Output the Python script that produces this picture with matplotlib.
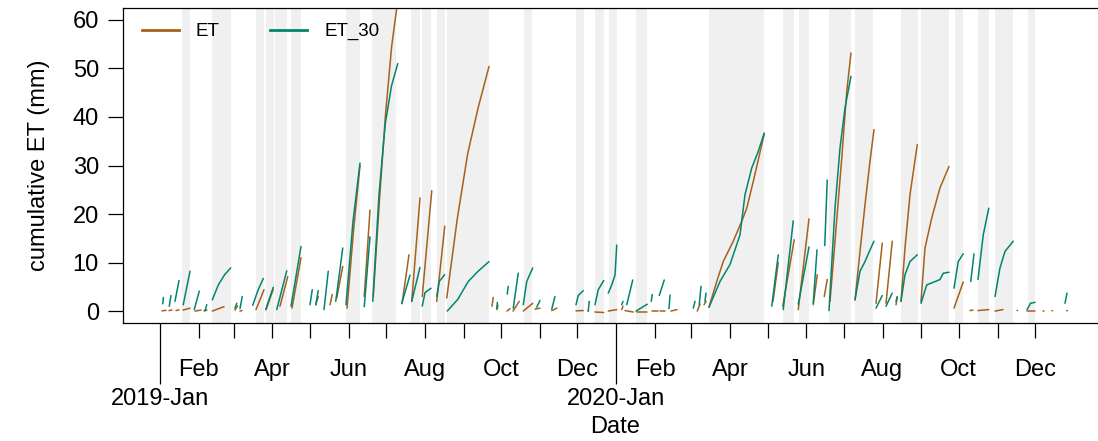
import numpy as np
import matplotlib.pyplot as plt
import matplotlib.dates as mdates

plt.rcParams['font.family'] = 'Liberation Sans'

# grey shaded periods
shade_start = ["2019-01-19", "2019-02-12", "2019-03-19", "2019-03-27", "2019-04-03",
               "2019-04-16", "2019-05-30", "2019-06-20", "2019-07-21", "2019-07-30",
               "2019-08-11", "2019-08-19", "2019-10-19", "2019-11-30", "2019-12-15",
               "2019-12-26", "2020-01-17", "2020-03-15", "2020-05-13", "2020-05-26",
               "2020-06-19", "2020-07-10", "2020-08-16", "2020-09-01", "2020-09-28",
               "2020-10-16", "2020-10-30", "2020-11-25"]
shade_end = ["2019-01-25", "2019-02-27", "2019-03-25", "2019-04-02", "2019-04-13",
             "2019-04-24", "2019-06-10", "2019-07-09", "2019-07-28", "2019-08-06",
             "2019-08-17", "2019-09-21", "2019-10-26", "2019-12-06", "2019-12-22",
             "2020-01-02", "2020-01-26", "2020-04-28", "2020-05-22", "2020-06-03",
             "2020-07-07", "2020-07-24", "2020-08-29", "2020-09-23", "2020-10-04",
             "2020-10-25", "2020-11-13", "2020-12-01"]

# cumulative ET per event: (start date, days since start, mm)
et_events = [
    ("2019-01-02", [0.6, 3.8], [0.05, 0.15]),
    ("2019-01-08", [0.2, 2.6], [0.1, 0.2]),
    ("2019-01-13", [0.8, 3.2], [0.1, 0.25]),
    ("2019-01-19", [0.4, 6.0], [0.2, 0.6]),
    ("2019-01-29", [0.0, 4.8], [0.0, 0.2]),
    ("2019-02-05", [0.2, 2.6], [0.1, 0.2]),
    ("2019-02-11", [0.8, 10.2], [0.0, 0.9]),
    ("2019-03-02", [0.0, 2.0], [0.2, 1.1]),
    ("2019-03-06", [0.0, 1.6], [0.0, 0.1]),
    ("2019-03-18", [0.8, 7.2], [0.3, 4.4]),
    ("2019-03-26", [0.8, 6.6], [0.3, 4.5]),
    ("2019-04-07", [0.0, 6.2], [1.0, 7.1]),
    ("2019-04-16", [0.6, 7.8], [0.6, 11.0]),
    ("2019-05-05", [0.6, 2.6], [1.3, 3.0]),
    ("2019-05-17", [0.0, 1.8], [1.3, 3.4]),
    ("2019-05-22", [0.4, 5.2], [2.7, 9.2]),
    ("2019-05-30", [0.6, 5.8, 11.0], [0.6, 16.5, 30.0]),
    ("2019-06-13", [0.4, 5.0], [3.0, 20.8]),
    ("2019-06-20", [0.6, 5.5, 10.4, 15.3, 20.2], [3.0, 22.6, 40.5, 54.5, 64.0]),
    ("2019-07-13", [0.6, 6.2], [1.5, 11.6]),
    ("2019-07-21", [0.4, 7.0], [2.0, 23.3]),
    ("2019-07-29", [0.8, 8.4], [3.0, 24.8]),
    ("2019-08-10", [0.4, 6.8], [2.0, 17.5]),
    ("2019-08-18", [0.4, 8.8, 17.2, 25.6, 34.2], [2.7, 19.0, 32.5, 42.0, 50.4]),
    ("2019-09-23", [0.6, 1.6], [1.0, 2.8]),
    ("2019-09-27", [0.6, 1.4], [0.3, 1.2]),
    ("2019-10-05", [0.6, 3.0], [0.0, 0.5]),
    ("2019-10-10", [0.4, 5.4], [0.0, 2.0]),
    ("2019-10-18", [0.6, 8.2], [0.0, 1.6]),
    ("2019-10-28", [0.0, 4.0], [0.4, 0.6]),
    ("2019-11-10", [0.4, 4.6], [0.1, 0.6]),
    ("2019-11-29", [0.8, 6.6], [0.05, 0.1]),
    ("2019-12-09", [0.4, 0.9], [0.0, 0.1]),
    ("2019-12-15", [0.0, 7.0], [-0.2, -0.3]),
    ("2019-12-25", [0.6, 7.4], [0.0, 0.3]),
    ("2020-01-05", [0.4, 1.4], [0.3, 1.0]),
    ("2020-01-08", [0.0, 6.6], [0.1, -0.2]),
    ("2020-01-17", [0.4, 8.6], [-0.1, -0.1]),
    ("2020-01-29", [0.4, 5.6], [0.0, 0.0]),
    ("2020-02-05", [0.0, 4.0], [0.1, 0.1]),
    ("2020-02-13", [0.8, 5.6], [0.0, 0.3]),
    ("2020-03-05", [0.8, 3.0], [0.0, 1.4]),
    ("2020-03-11", [0.2, 1.8], [1.3, 2.0]),
    ("2020-03-15", [0.2, 6.4, 11.6, 19.6, 26.4, 30.4, 35.6, 44.4],
     [0.8, 6.1, 10.2, 14.4, 18.5, 21.2, 26.7, 36.5]),
    ("2020-05-05", [0.4, 4.6], [2.0, 10.0]),
    ("2020-05-13", [0.2, 9.4], [1.0, 14.7]),
    ("2020-05-25", [0.6, 9.2], [0.3, 19.0]),
    ("2020-06-06", [0.6, 3.8], [1.3, 7.5]),
    ("2020-06-15", [0.4, 2.8], [3.0, 6.5]),
    ("2020-06-20", [0.0, 4.0, 9.4, 13.4, 16.8], [2.0, 14.4, 31.5, 45.3, 53.2]),
    ("2020-07-10", [0.0, 4.0, 8.0, 12.0, 15.2], [2.3, 12.3, 21.9, 30.9, 37.4]),
    ("2020-07-26", [0.8, 5.8], [1.6, 14.0]),
    ("2020-08-03", [0.8, 5.8], [1.6, 14.4]),
    ("2020-08-11", [0.8, 1.8], [1.3, 2.8]),
    ("2020-08-15", [0.8, 4.0, 8.0, 13.8], [2.0, 13.0, 24.0, 34.3]),
    ("2020-08-31", [0.8, 4.0, 9.4, 16.0, 23.2], [2.0, 13.0, 19.2, 25.4, 29.8]),
    ("2020-09-27", [0.2, 7.6], [0.6, 6.0]),
    ("2020-10-10", [0.0, 2.4], [0.1, 0.2]),
    ("2020-10-16", [0.4, 9.0], [0.1, 0.3]),
    ("2020-10-30", [0.0, 6.4], [0.0, 0.3]),
    ("2020-11-16", [0.6, 1.1], [0.1, 0.15]),
    ("2020-11-24", [0.6, 7.0], [0.0, 0.0]),
    ("2020-12-07", [0.4, 0.9], [0.1, 0.1]),
    ("2020-12-14", [0.6, 1.1], [0.05, 0.1]),
    ("2020-12-26", [0.4, 0.9], [0.05, 0.1]),
]

et30_events = [
    ("2019-01-03", [0.2, 0.7], [1.5, 2.8]),
    ("2019-01-08", [0.4, 1.8], [1.0, 3.2]),
    ("2019-01-13", [0.0, 3.2], [2.0, 6.3]),
    ("2019-01-19", [0.6, 6.0], [1.3, 8.2]),
    ("2019-01-28", [0.4, 4.4], [0.3, 4.1]),
    ("2019-02-06", [0.0, 1.4], [0.0, 1.3]),
    ("2019-02-11", [0.8, 5.7, 10.7, 15.6], [2.3, 5.4, 7.5, 8.9]),
    ("2019-03-02", [0.0, 1.4], [0.6, 1.6]),
    ("2019-03-06", [0.0, 1.8], [0.5, 3.0]),
    ("2019-03-16", [0.2, 4.4, 8.6], [1.2, 4.3, 6.7]),
    ("2019-03-26", [0.6, 6.6], [0.3, 4.9]),
    ("2019-04-04", [0.4, 8.4], [0.3, 8.3]),
    ("2019-04-15", [0.8, 8.8], [1.0, 13.3]),
    ("2019-05-01", [0.0, 1.8], [1.3, 4.4]),
    ("2019-05-05", [0.6, 2.6], [1.3, 4.2]),
    ("2019-05-12", [0.2, 3.6], [0.3, 8.2]),
    ("2019-05-21", [0.6, 6.2], [2.0, 13.0]),
    ("2019-05-29", [0.8, 6.4, 12.0], [1.3, 18.5, 30.5]),
    ("2019-06-13", [0.4, 5.0], [0.9, 15.3]),
    ("2019-06-20", [0.2, 5.2, 10.2, 15.2, 20.2], [2.0, 24.0, 38.6, 46.4, 51.0]),
    ("2019-07-13", [0.4, 7.0], [1.6, 7.4]),
    ("2019-07-21", [0.4, 7.0], [2.0, 9.0]),
    ("2019-07-29", [0.8, 3.0, 7.8], [1.0, 3.8, 4.7]),
    ("2019-08-10", [0.4, 2.4, 6.8], [3.0, 6.1, 7.5]),
    ("2019-08-18", [0.8, 9.2, 17.6, 25.9, 34.2], [0.0, 2.4, 6.1, 8.3, 10.2]),
    ("2019-09-27", [0.4, 0.9], [0.5, 1.8]),
    ("2019-10-05", [0.8, 1.6], [3.5, 5.1]),
    ("2019-10-10", [0.6, 4.6], [0.6, 7.8]),
    ("2019-10-18", [0.6, 3.4, 8.2], [1.3, 6.1, 8.9]),
    ("2019-10-29", [0.4, 3.0], [0.8, 2.2]),
    ("2019-11-10", [0.4, 3.0], [0.4, 3.0]),
    ("2019-11-29", [0.8, 2.6, 6.6], [1.3, 3.2, 4.2]),
    ("2019-12-09", [0.6, 1.4], [0.0, 2.0]),
    ("2019-12-15", [0.0, 2.6, 7.0], [1.3, 4.4, 6.3]),
    ("2019-12-25", [0.6, 3.4, 6.0, 7.4], [3.7, 5.4, 7.4, 13.6]),
    ("2020-01-05", [0.4, 1.4], [1.3, 2.0]),
    ("2020-01-09", [0.4, 5.2], [1.3, 6.4]),
    ("2020-01-16", [0.8, 9.8], [0.0, 1.4]),
    ("2020-01-29", [0.0, 0.8], [2.0, 3.4]),
    ("2020-02-04", [0.4, 4.4], [3.2, 6.4]),
    ("2020-02-12", [0.2, 1.0], [0.5, 3.3]),
    ("2020-03-02", [0.6, 2.0], [0.6, 2.0]),
    ("2020-03-07", [0.4, 1.8], [1.3, 5.1]),
    ("2020-03-12", [0.0, 0.8], [2.0, 3.7]),
    ("2020-03-15", [0.2, 9.0, 17.0, 25.0, 29.0, 34.4, 39.6, 44.4],
     [0.8, 6.1, 9.6, 15.7, 24.0, 29.5, 32.9, 36.7]),
    ("2020-05-04", [0.4, 5.6], [1.0, 11.6]),
    ("2020-05-13", [0.6, 8.6], [0.3, 18.6]),
    ("2020-05-25", [0.6, 9.2], [1.4, 13.2]),
    ("2020-06-06", [0.6, 3.6], [1.6, 12.6]),
    ("2020-06-15", [0.8, 2.8], [13.5, 27.0]),
    ("2020-06-19", [0.2, 5.0, 9.0, 13.0, 17.8], [0.1, 21.2, 33.6, 41.9, 48.4]),
    ("2020-07-10", [0.0, 4.0, 8.0, 12.0, 15.2], [2.3, 8.2, 10.2, 12.6, 14.4]),
    ("2020-07-26", [0.8, 5.8], [0.6, 3.2]),
    ("2020-08-03", [0.8, 5.8], [1.0, 3.7]),
    ("2020-08-11", [0.8, 1.8], [2.0, 3.0]),
    ("2020-08-15", [0.8, 4.0, 8.0, 13.8], [2.0, 7.5, 10.2, 11.6]),
    ("2020-08-31", [0.8, 5.4, 9.4, 16.0, 18.6, 23.2], [1.6, 5.4, 5.8, 6.5, 7.8, 8.0]),
    ("2020-09-27", [0.2, 3.6, 7.6], [4.7, 10.2, 11.8]),
    ("2020-10-10", [0.6, 3.2], [6.1, 11.8]),
    ("2020-10-16", [0.4, 4.6, 9.0], [6.5, 15.7, 21.2]),
    ("2020-10-30", [0.0, 4.0, 8.0, 14.6], [3.0, 8.9, 12.3, 14.4]),
    ("2020-11-24", [0.6, 3.4, 7.0], [0.3, 1.6, 1.8]),
    ("2020-12-25", [0.0, 1.6], [1.6, 3.7]),
]

col_et = '#A6611A'
col_et30 = '#018571'

year_ticks = ["2019-01-01", "2020-01-01"]
year_labels = ["2019-Jan", "2020-Jan"]
month_ticks = [f"{y}-{m:02d}-01" for y in (2019, 2020) for m in range(2, 13)]
month_labels = [["", "Feb", "", "Apr", "", "Jun", "", "Aug", "", "Oct", "", "Dec"][m - 1]
                for y in (2019, 2020) for m in range(2, 13)]

fig = plt.figure(figsize=(10.98, 4.41), dpi=100)
ax = fig.add_axes([0.11202, 0.26825, 0.89891, 0.71293])

t0 = mdates.datestr2num("2019-01-01")
ax.set_xlim(t0 - 29.6, t0 + 760)
ax.set_ylim(-2.4, 62.4)

for s, e in zip(shade_start, shade_end):
    ax.axvspan(mdates.datestr2num(s), mdates.datestr2num(e),
               color='#F0F0F0', lw=0, zorder=0)

for events, col in [(et_events, col_et), (et30_events, col_et30)]:
    for start, days, mm in events:
        x = mdates.datestr2num(start) + np.array(days)
        ax.plot(x, mm, color=col, lw=1.1, solid_capstyle='round', zorder=2)

# legend handles
ax.plot([], [], color=col_et, lw=2, label='ET')
ax.plot([], [], color=col_et30, lw=2, label='ET_30')
ax.legend(loc='center left', bbox_to_anchor=(0.0189, 0.9256), ncol=2, frameon=False,
          fontsize=13.5, handlelength=1.98, handletextpad=0.9, columnspacing=2.7,
          borderpad=0, borderaxespad=0)

ax.set_xticks([mdates.datestr2num(d) for d in year_ticks], labels=year_labels)
ax.set_xticks([mdates.datestr2num(d) for d in month_ticks], labels=month_labels, minor=True)
ax.tick_params(axis='x', which='major', length=43.6, width=0.9, pad=3.6, labelsize=17)
ax.tick_params(axis='x', which='minor', length=10.8, width=0.9, pad=15.5, labelsize=17)

ax.set_yticks([0, 10, 20, 30, 40, 50, 60])
ax.tick_params(axis='y', length=10.8, width=0.9, pad=6.5, labelsize=17)

ax.set_xlabel("Date", fontsize=17)
ax.xaxis.set_label_coords(0.4985, -0.2968)
ax.set_ylabel("cumulative ET (mm)", fontsize=17)
ax.yaxis.set_label_coords(-0.0735, 0.5)

for side in ['left', 'top', 'bottom']:
    ax.spines[side].set_linewidth(0.9)
ax.spines['right'].set_visible(False)

fig.savefig('out.png', dpi=100)
